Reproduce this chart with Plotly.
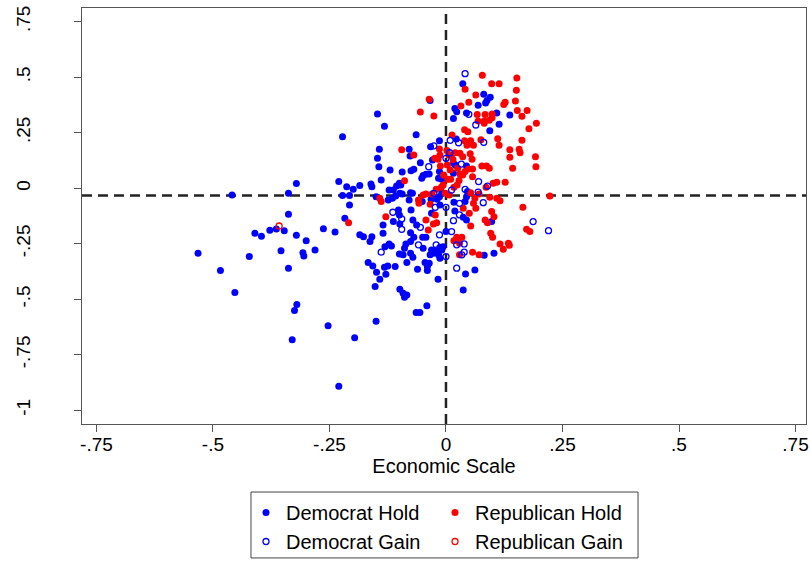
import plotly.graph_objects as go

# ---------------- data (Economic Scale, Social Scale) ----------------
DEM_HOLD = [
    (-0.459, -0.030), (-0.338, -0.023), (-0.321, 0.021), (-0.338, -0.117), (-0.410, -0.203),
    (-0.396, -0.216), (-0.378, -0.189), (-0.364, -0.183), (-0.347, -0.191), (-0.321, -0.212),
    (-0.300, -0.236), (-0.281, -0.278), (-0.354, -0.282), (-0.307, -0.290), (-0.305, -0.305),
    (-0.338, -0.360), (-0.422, -0.308), (-0.532, -0.293), (-0.484, -0.371), (-0.453, -0.470),
    (-0.320, -0.524), (-0.325, -0.551), (-0.330, -0.683), (-0.253, -0.619), (-0.196, -0.673),
    (-0.230, -0.892), (-0.263, -0.182), (-0.238, -0.197), (-0.230, 0.030),
    (-0.034, 0.395), (-0.147, 0.335), (-0.132, 0.279), (-0.222, 0.232), (-0.064, 0.241),
    (-0.014, 0.214), (-0.033, 0.187), (-0.143, 0.176), (-0.079, 0.176),
    (0.036, 0.471), (0.081, 0.423), (0.095, 0.410), (0.088, 0.395), (0.069, 0.374),
    (0.085, 0.384), (0.019, 0.359), (0.023, 0.345), (0.044, 0.339), (0.109, 0.339),
    (0.137, 0.330), (0.016, 0.314), (0.114, 0.288), (0.094, 0.259), (0.022, 0.222),
    (-0.077, 0.145), (-0.147, 0.135), (-0.055, 0.115), (-0.029, 0.127), (-0.144, 0.097),
    (-0.120, 0.082), (-0.094, 0.073), (-0.075, 0.079), (-0.069, 0.086), (-0.049, 0.057),
    (-0.043, 0.063), (-0.036, 0.064), (-0.014, 0.075), (-0.016, 0.045), (-0.009, 0.040),
    (-0.052, 0.045), (-0.139, 0.037), (-0.100, 0.023), (-0.106, 0.010), (-0.097, 0.015),
    (-0.113, -0.008), (-0.122, -0.008), (-0.159, 0.007), (-0.161, 0.019), (-0.185, 0.012),
    (-0.199, -0.005), (-0.213, 0.007), (-0.222, -0.033), (-0.207, -0.033), (-0.207, -0.075),
    (-0.150, -0.038), (-0.124, -0.053), (-0.115, -0.045), (-0.108, -0.035), (-0.099, -0.023),
    (-0.094, -0.026), (-0.076, -0.020), (-0.072, -0.023), (-0.079, -0.053), (-0.051, -0.060),
    (-0.032, -0.050), (-0.019, -0.050), (-0.014, -0.038), (-0.009, -0.020), (-0.031, -0.113),
    (-0.013, -0.075), (-0.102, -0.098), (-0.100, -0.120), (-0.075, -0.098), (-0.217, -0.135),
    (-0.135, -0.165), (-0.113, -0.150), (-0.099, -0.161), (-0.071, -0.143), (-0.063, -0.165),
    (0.000, -0.195), (-0.185, -0.210), (-0.177, -0.218), (-0.159, -0.218), (-0.135, -0.203),
    (-0.076, -0.200), (-0.069, -0.221), (-0.050, -0.221), (-0.043, -0.221),
    (0.011, 0.150), (0.016, 0.113), (0.020, 0.105), (0.016, 0.068), (0.044, 0.100),
    (0.046, -0.015), (0.017, -0.063), (0.019, -0.102), (0.041, -0.060), (0.044, -0.038),
    (0.037, -0.131), (0.044, -0.143), (0.098, -0.150),
    (-0.163, -0.240), (-0.131, -0.263), (-0.122, -0.251), (-0.117, -0.260), (-0.100, -0.296),
    (-0.092, -0.300), (-0.089, -0.270), (-0.086, -0.251), (-0.076, -0.240), (-0.049, -0.270),
    (-0.076, -0.293), (-0.071, -0.311), (-0.084, -0.335), (-0.167, -0.335), (-0.157, -0.350),
    (-0.132, -0.356), (-0.125, -0.350), (-0.109, -0.353), (-0.149, -0.378), (-0.129, -0.387),
    (-0.142, -0.410), (-0.152, -0.443), (-0.061, -0.365), (-0.045, -0.335), (-0.040, -0.353),
    (-0.040, -0.371), (-0.034, -0.300), (-0.027, -0.293), (-0.031, -0.278), (-0.020, -0.278),
    (-0.016, -0.300), (-0.009, -0.278), (-0.013, -0.315), (-0.036, -0.338), (-0.006, -0.263),
    (-0.013, -0.266), (-0.099, -0.455), (-0.092, -0.473), (-0.084, -0.481), (-0.089, -0.491),
    (-0.017, -0.410), (-0.041, -0.529), (-0.064, -0.560), (-0.056, -0.560), (-0.150, -0.599),
    (0.082, -0.302), (0.103, -0.293), (0.042, -0.386), (0.062, -0.368), (0.037, -0.458),
]

REP_HOLD = [
    (-0.036, 0.401), (-0.055, 0.344), (-0.026, 0.326), (-0.095, 0.173),
    (0.078, 0.509), (0.152, 0.497), (0.098, 0.471), (0.114, 0.471), (0.041, 0.446),
    (0.151, 0.441), (0.064, 0.420), (0.149, 0.393), (0.127, 0.387), (0.124, 0.377),
    (0.032, 0.371), (0.049, 0.387), (0.067, 0.332), (0.084, 0.332), (0.099, 0.335),
    (0.153, 0.350), (0.174, 0.350), (0.163, 0.324), (0.069, 0.303), (0.082, 0.303),
    (0.093, 0.306), (0.099, 0.318), (0.082, 0.293), (0.194, 0.293), (0.178, 0.268),
    (0.040, 0.264), (0.047, 0.255), (0.013, 0.240), (0.111, 0.223), (0.114, 0.194),
    (0.163, 0.216), (0.040, 0.214), (0.053, 0.214), (0.059, 0.194), (0.045, 0.194),
    (0.075, 0.218), (0.137, 0.173), (0.157, 0.176),
    (-0.069, 0.150), (-0.024, 0.135), (-0.017, 0.131), (-0.013, 0.150), (-0.014, 0.177),
    (-0.089, 0.034), (-0.142, -0.045), (-0.139, -0.060), (-0.059, -0.053), (-0.049, -0.030),
    (-0.043, -0.026), (-0.030, -0.026), (-0.058, -0.068), (-0.001, -0.023), (0.007, -0.030),
    (-0.010, 0.005), (-0.006, 0.015), (-0.021, -0.005), (-0.034, -0.072), (-0.129, -0.128),
    (-0.209, -0.155), (-0.043, -0.143), (-0.038, -0.188), (-0.027, -0.161), (-0.020, -0.155),
    (-0.023, -0.120),
    (0.003, 0.105), (0.009, 0.082), (-0.005, 0.060), (0.004, 0.040), (-0.012, 0.100),
    (0.006, 0.150), (0.002, 0.170),
    (0.020, 0.160), (0.030, 0.158), (0.036, 0.142), (0.052, 0.155), (0.056, 0.131),
    (0.048, 0.087), (0.057, 0.087), (0.041, 0.075), (0.036, 0.060), (0.030, 0.064),
    (0.077, 0.100), (0.087, 0.100), (0.093, 0.090), (0.057, 0.052), (0.086, 0.005),
    (0.101, 0.023), (0.109, 0.027), (0.127, 0.027), (0.143, 0.090), (0.137, 0.140),
    (0.159, 0.160), (0.192, 0.142), (0.193, 0.097), (0.024, 0.015), (0.017, 0.005),
    (0.053, -0.020), (0.071, -0.026), (0.094, -0.041), (0.109, -0.045), (0.116, -0.056),
    (0.062, -0.045), (0.059, -0.068), (0.037, -0.090), (0.050, -0.113), (0.064, -0.090),
    (0.098, -0.105), (0.103, -0.128), (0.084, -0.143), (0.089, -0.155), (0.053, -0.170),
    (0.023, -0.221), (0.034, -0.221), (0.096, -0.203), (0.100, -0.221), (0.165, -0.086),
    (0.223, -0.035), (0.173, -0.185), (0.180, -0.195),
    (0.015, 0.130), (0.025, 0.090), (0.010, 0.040), (0.028, 0.035),
    (0.017, -0.236), (0.029, -0.248), (0.029, -0.300), (0.057, -0.288), (0.071, -0.299),
    (0.116, -0.251), (0.123, -0.275), (0.134, -0.248), (0.136, -0.257),
]

DEM_GAIN = [
    (-0.026, 0.191), (0.041, 0.516), (0.049, 0.333), (0.064, 0.285), (0.009, 0.216),
    (0.027, 0.205), (0.081, 0.207), (-0.037, 0.097), (-0.026, -0.023), (-0.023, -0.086),
    (0.000, -0.086), (-0.114, -0.108), (-0.095, -0.138), (-0.095, -0.185), (-0.055, -0.176),
    (-0.014, -0.210), (0.000, 0.135), (0.008, 0.160), (0.033, 0.109), (0.070, 0.030),
    (0.089, 0.010), (0.012, -0.008), (0.041, -0.005), (0.069, -0.017), (0.080, -0.065),
    (0.029, -0.068), (0.029, -0.120), (0.016, -0.146), (0.012, -0.195), (0.187, -0.150),
    (0.220, -0.191), (-0.139, -0.288), (-0.059, -0.255), (-0.021, -0.255), (0.000, -0.308),
    (0.023, -0.255), (0.039, -0.251), (0.034, -0.300), (0.039, -0.288), (0.023, -0.360),
]

REP_GAIN = [(-0.358, -0.170)]

# reference lines
ECON_REF = 0.0
SOCIAL_REF = -0.033

TICK_VALS = [-0.75, -0.5, -0.25, 0, 0.25, 0.5, 0.75]
X_TICK_TEXT = ["-.75", "-.5", "-.25", "0", ".25", ".5", ".75"]
Y_TICK_VALS = [-1, -0.75, -0.5, -0.25, 0, 0.25, 0.5, 0.75]
Y_TICK_TEXT = ["-1", "-.75", "-.5", "-.25", "0", ".25", ".5", ".75"]

BLUE = "#0000ff"
RED = "#ff0000"
FONT = "Liberation Sans, Arial, Helvetica, sans-serif"


def xs(pts):
    return [p[0] for p in pts]


def ys(pts):
    return [p[1] for p in pts]


fig = go.Figure()
fig.add_trace(go.Scatter(x=xs(DEM_HOLD), y=ys(DEM_HOLD), mode="markers", name="Democrat Hold",
                         marker=dict(color=BLUE, size=7, line=dict(width=0)), legend="legend"))
fig.add_trace(go.Scatter(x=xs(REP_HOLD), y=ys(REP_HOLD), mode="markers", name="Republican Hold",
                         marker=dict(color=RED, size=7, line=dict(width=0)), legend="legend2"))
fig.add_trace(go.Scatter(x=xs(DEM_GAIN), y=ys(DEM_GAIN), mode="markers", name="Democrat Gain",
                         marker=dict(color=BLUE, size=6, symbol="circle-open", line=dict(width=1.3)),
                         legend="legend"))
fig.add_trace(go.Scatter(x=xs(REP_GAIN), y=ys(REP_GAIN), mode="markers", name="Republican Gain",
                         marker=dict(color=RED, size=6, symbol="circle-open", line=dict(width=1.3)),
                         legend="legend2"))

axis_common = dict(showgrid=False, zeroline=False, showline=True, mirror=True,
                   linecolor="#555555", linewidth=1, ticks="outside", ticklen=7,
                   tickcolor="#555555", tickwidth=1, automargin=False,
                   tickfont=dict(family=FONT, size=19, color="black"))

fig.update_layout(
    template="none",
    width=810, height=561,
    margin=dict(l=82, r=4, t=8, b=137, autoexpand=False),
    paper_bgcolor="white", plot_bgcolor="white",
    font=dict(family=FONT, size=19, color="black"),
    xaxis=dict(range=[-0.781, 0.7725], tickvals=TICK_VALS, ticktext=X_TICK_TEXT,
               ticklabelstandoff=-4,
               title=dict(text="Economic Scale", standoff=2, font=dict(family=FONT, size=20)),
               **axis_common),
    yaxis=dict(range=[-1.062, 0.812], tickvals=Y_TICK_VALS, ticktext=Y_TICK_TEXT,
               tickangle=-90, ticklabelstandoff=36, **axis_common),
    legend=dict(x=0.2265, y=-0.1659, xanchor="left", yanchor="top", orientation="v",
                bgcolor="rgba(0,0,0,0)", font=dict(family=FONT, size=20), tracegroupgap=0),
    legend2=dict(x=0.4876, y=-0.1659, xanchor="left", yanchor="top", orientation="v",
                 bgcolor="rgba(0,0,0,0)", font=dict(family=FONT, size=20), tracegroupgap=0),
    showlegend=True,
    shapes=[
        dict(type="line", xref="paper", x0=0, x1=1, yref="y", y0=SOCIAL_REF, y1=SOCIAL_REF,
             line=dict(color="#222222", width=2.5, dash="10px,6px"), layer="below"),
        dict(type="line", xref="x", x0=ECON_REF, x1=ECON_REF, yref="paper", y0=0, y1=1,
             line=dict(color="#222222", width=2.5, dash="10px,6px"), layer="below"),
        dict(type="rect", xref="paper", yref="paper", x0=0.2334, x1=0.768, y0=-0.322, y1=-0.1635,
             line=dict(color="#444444", width=1), fillcolor="rgba(0,0,0,0)"),
    ],
)

fig.write_html(
    "out.html",
    config={"displayModeBar": False},
    post_script="document.body.style.margin='0';document.body.style.overflow='hidden';",
)
